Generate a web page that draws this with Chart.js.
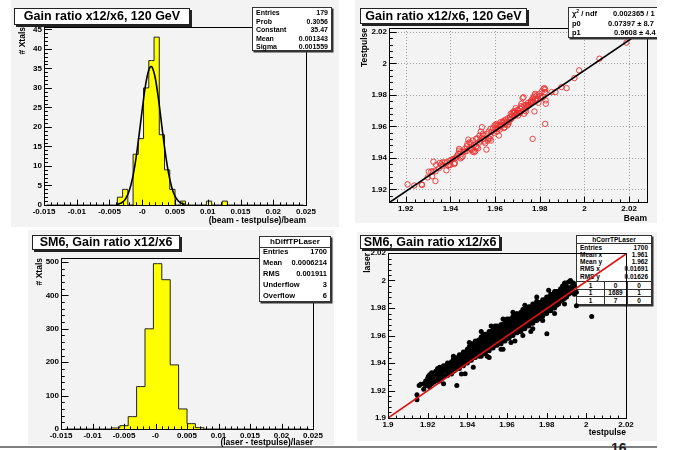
<!DOCTYPE html>
<html>
<head>
<meta charset="utf-8">
<script src="https://cdn.jsdelivr.net/npm/chart.js@4.4.0/dist/chart.umd.min.js"></script>
<style>
body { margin: 0; width: 673px; height: 450px; overflow: hidden; background: #fff; position: relative; font-family: "Liberation Sans", Arial, sans-serif; }
.bg { position: absolute; background: #f3f3f3; z-index: 0; }
canvas { position: absolute; z-index: 2; }
.ttl { position: absolute; z-index: 3; background: #fff; border: 1px solid #222; box-shadow: 2px 2px 0 #222; box-sizing: border-box; font-weight: bold; font-size: 12.5px; text-align: center; white-space: nowrap; }
.st { position: absolute; z-index: 3; background: #fff; border: 1px solid #333; box-shadow: 1.5px 1.5px 0 #333; box-sizing: border-box; font-weight: bold; font-size: 7px; }
.st .r { position: absolute; left: 3px; right: 3px; display: flex; justify-content: space-between; white-space: nowrap; }
.st .hd { position: absolute; left: 0; right: 0; text-align: center; border-bottom: 1px solid #333; }
.st .c { position: absolute; text-align: center; }
.st .hl { position: absolute; left: 0; right: 0; border-top: 1px solid #333; }
.st .vl { position: absolute; border-left: 1px solid #333; }
</style>
</head>
<body>

<div class="bg" style="left:11px;top:0;width:328px;height:227px"></div>
<div class="bg" style="left:355px;top:0;width:302px;height:223px"></div>
<div class="bg" style="left:28px;top:230px;width:306px;height:215px"></div>
<div class="bg" style="left:357px;top:232px;width:300px;height:209px"></div>
<div style="position:absolute;left:0;top:446px;width:657px;height:1.5px;background:#808080"></div>
<div style="position:absolute;left:611px;top:440px;font-size:14px;font-weight:bold;color:#222">16</div>

<canvas id="c1" width="340" height="226" style="left:0;top:0"></canvas>
<canvas id="c2" width="333" height="226" style="left:340px;top:0"></canvas>
<canvas id="c3" width="340" height="224" style="left:0;top:226px"></canvas>
<canvas id="c4" width="333" height="224" style="left:340px;top:226px"></canvas>

<div class="ttl" style="left:14px;top:8px;width:176px;height:17px;line-height:15px">Gain ratio x12/x6, 120 GeV</div>
<div class="ttl" style="left:360px;top:8px;width:167px;height:16px;line-height:14px">Gain ratio x12/x6, 120 GeV</div>
<div class="ttl" style="left:32px;top:235px;width:148px;height:15px;line-height:13px">SM6, Gain ratio x12/x6</div>
<div class="ttl" style="left:360px;top:235px;width:140px;height:14px;line-height:12px">SM6, Gain ratio x12/x6</div>

<div class="st" style="left:252px;top:7px;width:80px;height:44px;line-height:8.5px">
  <div class="r" style="top:1px"><span>Entries</span><span>179</span></div>
  <div class="r" style="top:9.5px"><span>Prob</span><span>0.3056</span></div>
  <div class="r" style="top:18px"><span>Constant</span><span>35.47</span></div>
  <div class="r" style="top:26.5px"><span>Mean</span><span>0.001343</span></div>
  <div class="r" style="top:35px"><span>Sigma</span><span>0.001559</span></div>
</div>

<div style="position:absolute;z-index:3;left:568px;top:7px;width:89px;height:33px;overflow:hidden">
  <div class="st" style="left:0;top:0;width:130px;height:31px;font-size:7.5px;line-height:9px">
    <div style="position:absolute;left:3px;top:1px">χ<sup style="font-size:5px;line-height:0">2</sup> / ndf</div>
    <div style="position:absolute;left:44px;top:1px;white-space:nowrap">0.002365 / 1</div>
    <div style="position:absolute;left:3px;top:11px">p0</div>
    <div style="position:absolute;left:39px;top:11px;white-space:nowrap">0.07397 ± 8.7</div>
    <div style="position:absolute;left:3px;top:20px">p1</div>
    <div style="position:absolute;left:45px;top:20px;white-space:nowrap">0.9608 ± 4.4</div>
  </div>
</div>

<div class="st" style="left:259px;top:236px;width:72px;height:66px;font-size:7.5px;line-height:11px">
  <div class="hd" style="top:-1px;font-size:8px">hDiffTPLaser</div>
  <div class="r" style="top:9px"><span>Entries</span><span>1700</span></div>
  <div class="r" style="top:20px"><span>Mean</span><span>0.0006214</span></div>
  <div class="r" style="top:31px"><span>RMS</span><span>0.001911</span></div>
  <div class="r" style="top:42px"><span>Underflow</span><span>3</span></div>
  <div class="r" style="top:53px"><span>Overflow</span><span>6</span></div>
</div>

<div class="st" style="left:576px;top:235px;width:76px;height:70px;font-size:6.5px;line-height:7.3px;z-index:1">
  <div class="hd" style="top:0">hCorrTPLaser</div>
  <div class="r" style="top:7.5px"><span>Entries</span><span>1700</span></div>
  <div class="r" style="top:14.8px"><span>Mean x</span><span>1.961</span></div>
  <div class="r" style="top:22px"><span>Mean y</span><span>1.962</span></div>
  <div class="r" style="top:29.3px"><span>RMS x</span><span>0.01691</span></div>
  <div class="r" style="top:36.6px"><span>RMS y</span><span>0.01626</span></div>
  <div class="hl" style="top:45px"></div>
  <div class="hl" style="top:52.5px"></div>
  <div class="hl" style="top:60px"></div>
  <div class="vl" style="left:27px;top:45px;height:24px"></div>
  <div class="vl" style="left:50px;top:45px;height:24px"></div>
  <div class="c" style="left:0;width:27px;top:45.5px">1</div>
  <div class="c" style="left:27px;width:23px;top:45.5px">0</div>
  <div class="c" style="left:50px;width:24px;top:45.5px">0</div>
  <div class="c" style="left:0;width:27px;top:53px">1</div>
  <div class="c" style="left:27px;width:23px;top:53px">1689</div>
  <div class="c" style="left:50px;width:24px;top:53px">1</div>
  <div class="c" style="left:0;width:27px;top:60.5px">1</div>
  <div class="c" style="left:27px;width:23px;top:60.5px">7</div>
  <div class="c" style="left:50px;width:24px;top:60.5px">0</div>
</div>

<script>
const FONT = '"Liberation Sans", Arial, sans-serif';

// top left: (beam - testpulse)/beam, 50 bins from -0.015 to 0.025
const beamDiffLow = -0.015;
const beamDiffBinWidth = 0.0008;
const beamDiffCounts = [0, 0, 0, 0, 0, 0, 0, 0, 0, 0,
  0, 0, 0, 0, 2, 4, 0, 13, 17, 30,
  37, 43, 18, 9, 4, 0, 1, 0, 0, 0,
  0, 1, 0, 0, 1, 0, 0, 0, 0, 0,
  0, 0, 0, 0, 0, 0, 0, 0, 0, 0];
// gaussian fit curve
const gausX = [-0.004, -0.0035, -0.003, -0.0025, -0.002, -0.0015, -0.001, -0.0005, 0, 0.0005, 0.001, 0.00134,
  0.0015, 0.002, 0.0025, 0.003, 0.0035, 0.004, 0.0045, 0.005, 0.0055, 0.006, 0.0065];
const gausY = [0.10, 0.29, 0.74, 1.72, 3.59, 6.74, 11.5, 17.7, 24.5, 30.7, 34.6, 35.47,
  35.3, 32.4, 26.9, 20.1, 13.6, 8.29, 4.55, 2.26, 1.01, 0.41, 0.15];
const diffTicks = [-0.015, -0.01, -0.005, 0, 0.005, 0.01, 0.015, 0.02, 0.025];
const diffTickLabels = ["-0.015", "-0.01", "-0.005", "-0", "0.005", "0.01", "0.015", "0.02", "0.025"];
const xtals1Ticks = [0, 5, 10, 15, 20, 25, 30, 35, 40, 45];

// top right: testpulse vs beam
const beamGain = [1.9208, 1.9238, 1.9271, 1.9273, 1.9333, 1.9314, 1.9321, 1.9324, 1.9336, 1.9352,
  1.9359, 1.9364, 1.9382, 1.9385, 1.9394, 1.9397, 1.9405, 1.9417, 1.9420, 1.9430,
  1.9435, 1.9439, 1.9445, 1.9450, 1.9455, 1.9465, 1.9473, 1.9476, 1.9480, 1.9485,
  1.9491, 1.9495, 1.9500, 1.9506, 1.9511, 1.9515, 1.9518, 1.9524, 1.9530, 1.9533,
  1.9536, 1.9541, 1.9545, 1.9548, 1.9553, 1.9556, 1.9561, 1.9567, 1.9571, 1.9576,
  1.9579, 1.9582, 1.9586, 1.9594, 1.9602, 1.9606, 1.9609, 1.9612, 1.9617, 1.9621,
  1.9624, 1.9627, 1.9632, 1.9636, 1.9639, 1.9642, 1.9647, 1.9652, 1.9655, 1.9658,
  1.9662, 1.9667, 1.9670, 1.9673, 1.9677, 1.9682, 1.9685, 1.9689, 1.9692, 1.9697,
  1.9700, 1.9703, 1.9708, 1.9712, 1.9715, 1.9718, 1.9723, 1.9727, 1.9730, 1.9733,
  1.9738, 1.9742, 1.9745, 1.9748, 1.9753, 1.9758, 1.9761, 1.9764, 1.9768, 1.9773,
  1.9776, 1.9779, 1.9783, 1.9788, 1.9791, 1.9794, 1.9798, 1.9803, 1.9806, 1.9809,
  1.9814, 1.9817, 1.9821, 1.9823, 1.9824, 1.9826, 1.9827, 1.9824, 1.9768, 1.9776,
  1.9852, 1.9870, 1.9897, 1.9920, 1.9955, 1.9976, 2.0067, 2.0188, 1.9298, 1.9303,
  1.9318, 1.9333, 1.9348, 1.9364, 1.9374, 1.9389, 1.9400, 1.9412, 1.9420, 1.9427,
  1.9439, 1.9445, 1.9458, 1.9465, 1.9473, 1.9485, 1.9491, 1.9500, 1.9506, 1.9515,
  1.9521, 1.9530, 1.9538, 1.9548, 1.9561, 1.9571, 1.9579, 1.9591, 1.9597, 1.9606,
  1.9612, 1.9621, 1.9632, 1.9639, 1.9648, 1.9658, 1.9667, 1.9676, 1.9685, 1.9694,
  1.9703, 1.9712, 1.9721, 1.9730, 1.9739, 1.9748, 1.9761, 1.9770, 1.9779];
const tpGain = [1.9232, 1.9225, 1.9232, 1.9228, 1.9253, 1.9313, 1.9315, 1.9376, 1.9355, 1.9368,
  1.9359, 1.9351, 1.9321, 1.9372, 1.9355, 1.9383, 1.9389, 1.9361, 1.9368, 1.9414,
  1.9425, 1.9457, 1.9397, 1.9404, 1.9410, 1.9440, 1.9444, 1.9489, 1.9516, 1.9461,
  1.9457, 1.9451, 1.9440, 1.9436, 1.9442, 1.9474, 1.9468, 1.9461, 1.9499, 1.9510,
  1.9567, 1.9595, 1.9552, 1.9521, 1.9504, 1.9493, 1.9453, 1.9510, 1.9525, 1.9521,
  1.9538, 1.9510, 1.9567, 1.9559, 1.9606, 1.9589, 1.9567, 1.9584, 1.9542, 1.9580,
  1.9627, 1.9606, 1.9606, 1.9627, 1.9589, 1.9595, 1.9616, 1.9631, 1.9606, 1.9614,
  1.9627, 1.9659, 1.9680, 1.9648, 1.9686, 1.9695, 1.9665, 1.9695, 1.9716, 1.9684,
  1.9705, 1.9669, 1.9686, 1.9712, 1.9729, 1.9744, 1.9780, 1.9786, 1.9680, 1.9701,
  1.9695, 1.9722, 1.9733, 1.9737, 1.9737, 1.9750, 1.9765, 1.9758, 1.9775, 1.9786,
  1.9797, 1.9807, 1.9763, 1.9797, 1.9771, 1.9750, 1.9807, 1.9792, 1.9780, 1.9822,
  1.9786, 1.9839, 1.9843, 1.9818, 1.9835, 1.9765, 1.9744, 1.9616, 1.9521, 1.9695,
  1.9818, 1.9818, 1.9850, 1.9843, 1.9907, 1.9956, 2.0030, 2.0132, 1.9276, 1.9313,
  1.9283, 1.9315, 1.9334, 1.9372, 1.9372, 1.9351, 1.9355, 1.9393, 1.9397, 1.9404,
  1.9446, 1.9436, 1.9440, 1.9457, 1.9474, 1.9499, 1.9495, 1.9510, 1.9482, 1.9521,
  1.9525, 1.9542, 1.9525, 1.9542, 1.9552, 1.9567, 1.9584, 1.9589, 1.9606, 1.9616,
  1.9610, 1.9606, 1.9627, 1.9637, 1.9644, 1.9652, 1.9644, 1.9669, 1.9686, 1.9673,
  1.9701, 1.9686, 1.9722, 1.9733, 1.9737, 1.9750, 1.9754, 1.9754, 1.9771];
const gainFitX = [1.9125, 2.028];
const gainFitY = [1.9115, 2.0225];
const gainTicks = [1.92, 1.94, 1.96, 1.98, 2.0, 2.02];
const gainTickLabels = ["1.92", "1.94", "1.96", "1.98", "2", "2.02"];

// bottom left: (laser - testpulse)/laser, 30 bins from -0.015 to 0.025
const laserDiffLow = -0.015;
const laserDiffBinWidth = 0.04 / 30;
const laserDiffCounts = [0, 0, 0, 0, 0, 0, 3, 10, 37, 127,
  300, 495, 447, 192, 60, 16, 4, 0, 0, 0,
  0, 0, 0, 0, 0, 0, 0, 0, 0, 0];
const xtals3Ticks = [0, 100, 200, 300, 400, 500];

// bottom right: laser vs testpulse, one column of laser values per testpulse value
const tpColumns = [1.9146, 1.9157, 1.9165, 1.918, 1.919, 1.920, 1.9204, 1.921, 1.922, 1.923,
  1.924, 1.925, 1.926, 1.927, 1.928, 1.929, 1.930, 1.931, 1.932, 1.933,
  1.934, 1.935, 1.936, 1.937, 1.938, 1.939, 1.940, 1.941, 1.942, 1.943,
  1.944, 1.945, 1.946, 1.947, 1.948, 1.949, 1.950, 1.951, 1.952, 1.953,
  1.954, 1.955, 1.956, 1.957, 1.958, 1.959, 1.960, 1.961, 1.962, 1.963,
  1.964, 1.965, 1.966, 1.967, 1.968, 1.969, 1.970, 1.971, 1.972, 1.973,
  1.974, 1.975, 1.976, 1.977, 1.978, 1.979, 1.980, 1.981, 1.982, 1.983,
  1.984, 1.985, 1.986, 1.987, 1.988, 1.989, 1.990, 1.991, 1.992, 1.993,
  1.994, 1.995];
const laserColumns = [
  [1.9133, 1.9169], [1.9236], [1.9245], [1.921, 1.925], [1.9235, 1.927], [1.925, 1.929], [1.9303],
  [1.9225, 1.927, 1.9315], [1.925, 1.929, 1.933], [1.926, 1.930],
  [1.927, 1.931, 1.934], [1.928, 1.932], [1.927, 1.931, 1.934, 1.937], [1.929, 1.933, 1.936],
  [1.930, 1.934, 1.938], [1.931, 1.935, 1.938], [1.931, 1.934, 1.937, 1.940], [1.933, 1.936, 1.939],
  [1.932, 1.935, 1.938, 1.941], [1.934, 1.937, 1.940, 1.943],
  [1.935, 1.937, 1.939, 1.941, 1.943], [1.936, 1.938, 1.940, 1.942, 1.944],
  [1.936, 1.938, 1.940, 1.942, 1.944, 1.946], [1.938, 1.940, 1.942, 1.944, 1.946],
  [1.938, 1.940, 1.942, 1.944, 1.946, 1.948], [1.940, 1.942, 1.944, 1.946, 1.948],
  [1.940, 1.942, 1.944, 1.946, 1.948, 1.950],
  [1.942, 1.944, 1.946, 1.948, 1.950, 1.952],
  [1.942, 1.944, 1.946, 1.948, 1.950, 1.952, 1.954],
  [1.944, 1.946, 1.948, 1.950, 1.952, 1.954],
  [1.944, 1.946, 1.948, 1.950, 1.952, 1.954, 1.956],
  [1.946, 1.948, 1.950, 1.952, 1.954, 1.956],
  [1.945, 1.947, 1.949, 1.951, 1.953, 1.955, 1.957],
  [1.945, 1.947, 1.949, 1.951, 1.953, 1.955, 1.957, 1.959],
  [1.947, 1.949, 1.951, 1.953, 1.955, 1.957, 1.959, 1.961],
  [1.947, 1.949, 1.951, 1.953, 1.955, 1.957, 1.959, 1.961],
  [1.949, 1.951, 1.953, 1.955, 1.957, 1.959, 1.961, 1.945],
  [1.949, 1.951, 1.953, 1.955, 1.957, 1.959, 1.961, 1.963],
  [1.951, 1.953, 1.955, 1.957, 1.959, 1.961, 1.963],
  [1.951, 1.953, 1.955, 1.957, 1.959, 1.961, 1.963, 1.965],
  [1.953, 1.955, 1.957, 1.959, 1.961, 1.963, 1.965, 1.967],
  [1.953, 1.955, 1.957, 1.959, 1.961, 1.963, 1.965, 1.967],
  [1.954, 1.956, 1.958, 1.960, 1.962, 1.964, 1.966],
  [1.954, 1.956, 1.958, 1.960, 1.962, 1.964, 1.966, 1.968],
  [1.956, 1.958, 1.960, 1.962, 1.964, 1.966, 1.968, 1.950],
  [1.956, 1.958, 1.960, 1.962, 1.964, 1.966, 1.968, 1.970],
  [1.958, 1.960, 1.962, 1.964, 1.966, 1.968, 1.970, 1.972],
  [1.958, 1.960, 1.962, 1.964, 1.966, 1.968, 1.970, 1.972],
  [1.960, 1.962, 1.964, 1.966, 1.968, 1.970, 1.972],
  [1.960, 1.962, 1.964, 1.966, 1.968, 1.970, 1.972, 1.974],
  [1.962, 1.964, 1.966, 1.968, 1.970, 1.972, 1.974, 1.956],
  [1.962, 1.964, 1.966, 1.968, 1.970, 1.972, 1.974, 1.976],
  [1.963, 1.965, 1.967, 1.969, 1.971, 1.973, 1.975],
  [1.963, 1.965, 1.967, 1.969, 1.971, 1.973, 1.975, 1.977],
  [1.965, 1.967, 1.969, 1.971, 1.973, 1.975, 1.977, 1.979],
  [1.965, 1.967, 1.969, 1.971, 1.973, 1.975, 1.977, 1.979],
  [1.967, 1.969, 1.971, 1.973, 1.975, 1.977, 1.979],
  [1.967, 1.969, 1.971, 1.973, 1.975, 1.977, 1.979, 1.981],
  [1.969, 1.971, 1.973, 1.975, 1.977, 1.979, 1.981, 1.963],
  [1.969, 1.971, 1.973, 1.975, 1.977, 1.979, 1.981, 1.983],
  [1.971, 1.973, 1.975, 1.977, 1.979, 1.981, 1.983],
  [1.971, 1.973, 1.975, 1.977, 1.979, 1.981, 1.983, 1.985],
  [1.972, 1.974, 1.976, 1.978, 1.980, 1.982, 1.984],
  [1.974, 1.976, 1.978, 1.980, 1.982, 1.984],
  [1.974, 1.976, 1.978, 1.980, 1.982, 1.984, 1.986],
  [1.976, 1.978, 1.980, 1.982, 1.984, 1.986],
  [1.976, 1.978, 1.980, 1.982, 1.984, 1.986, 1.988],
  [1.978, 1.980, 1.982, 1.984, 1.986, 1.988],
  [1.978, 1.980, 1.982, 1.984, 1.986, 1.988, 1.990],
  [1.980, 1.982, 1.984, 1.986, 1.988, 1.990],
  [1.980, 1.982, 1.984, 1.986, 1.988, 1.990, 1.992],
  [1.982, 1.984, 1.986, 1.988, 1.990, 1.992],
  [1.983, 1.986, 1.989, 1.992],
  [1.985, 1.988, 1.991, 1.994],
  [1.986, 1.990, 1.993, 1.996],
  [1.987, 1.991, 1.995, 1.998],
  [1.988, 1.992, 1.996],
  [1.990, 1.994, 1.999],
  [1.991, 1.995, 2.000],
  [1.993, 1.998],
  [1.990, 1.996],
  [1.9915, 1.9817]
];
// isolated dots and the ragged edges of the band
const tpOutliers = [2.0027, 1.9801, 1.9347, 1.9389, 1.9893, 1.9918, 1.9935,
  1.925, 1.933, 1.941, 1.947, 1.952, 1.958, 1.963, 1.969, 1.975, 1.981,
  1.928, 1.937, 1.943, 1.951, 1.957, 1.962, 1.968, 1.973, 1.978, 1.984, 1.989];
const laserOutliers = [1.9739, 1.9613, 1.9237, 1.9322, 1.9982, 1.9994, 1.9982,
  1.936, 1.945, 1.955, 1.963, 1.967, 1.972, 1.977, 1.982, 1.988, 1.993,
  1.925, 1.932, 1.937, 1.944, 1.950, 1.955, 1.960, 1.965, 1.971, 1.976, 1.983];
const corrFitX = [1.9, 2.02];
const corrFitY = [1.9, 2.0193];
const corrTicks = [1.9, 1.92, 1.94, 1.96, 1.98, 2.0, 2.02];
const corrTickLabels = ["1.9", "1.92", "1.94", "1.96", "1.98", "2", "2.02"];

function eachTick(scale, minor, major, cb) {
  const n0 = Math.ceil(scale.min / minor - 1e-6);
  const n1 = Math.floor(scale.max / minor + 1e-6);
  for (let n = n0; n <= n1; n++) {
    const r = (n * minor) / major;
    cb(scale.getPixelForValue(n * minor), Math.abs(r - Math.round(r)) < 1e-4);
  }
}

// ROOT style frame: box, inner ticks, optional dotted grid
const rootFrame = {
  id: "rootFrame",
  beforeDatasetsDraw(chart, args, o) {
    if (!o.grid) return;
    const { ctx, chartArea: a, scales: { x, y } } = chart;
    ctx.save();
    ctx.strokeStyle = "#a0a0a0";
    ctx.lineWidth = 1;
    ctx.setLineDash([1, 2]);
    ctx.beginPath();
    o.xGrid.forEach(v => {
      const px = Math.round(x.getPixelForValue(v)) + 0.5;
      ctx.moveTo(px, a.top);
      ctx.lineTo(px, a.bottom);
    });
    o.yGrid.forEach(v => {
      const py = Math.round(y.getPixelForValue(v)) + 0.5;
      ctx.moveTo(a.left, py);
      ctx.lineTo(a.right, py);
    });
    ctx.stroke();
    ctx.restore();
  },
  afterDatasetsDraw(chart, args, o) {
    const { ctx, chartArea: a, scales: { x, y } } = chart;
    const xl = 0.03 * a.height, yl = 0.03 * a.width;
    ctx.save();
    ctx.strokeStyle = "#000";
    ctx.lineWidth = 1;
    ctx.beginPath();
    eachTick(x, o.xMinor, o.xMajor, (px, major) => {
      px = Math.round(px) + 0.5;
      ctx.moveTo(px, a.bottom);
      ctx.lineTo(px, a.bottom - (major ? xl : xl / 2));
    });
    eachTick(y, o.yMinor, o.yMajor, (py, major) => {
      py = Math.round(py) + 0.5;
      ctx.moveTo(a.left, py);
      ctx.lineTo(a.left + (major ? yl : yl / 2), py);
    });
    ctx.stroke();
    ctx.strokeRect(Math.round(a.left) + 0.5, Math.round(a.top) + 0.5, Math.round(a.width), Math.round(a.height));
    ctx.restore();
  }
};
Chart.register(rootFrame);

function axis(a, size, horizontal) {
  const font = { family: FONT, size: 8, weight: "bold" };
  return {
    type: "linear",
    min: a.min,
    max: a.max,
    afterFit: s => { if (horizontal) s.height = size; else s.width = size; },
    afterBuildTicks: s => { s.ticks = a.ticks.map(v => ({ value: v })); },
    grid: { display: false, drawTicks: false },
    border: { display: false },
    ticks: {
      padding: horizontal ? 1.5 : 2, color: "#000", font: font, autoSkip: false, maxRotation: 0,
      callback: (v, i) => a.labels[i]
    },
    title: {
      display: true, text: a.title, align: "end", color: "#000", font: { family: FONT, size: 8.5, weight: "bold" },
      padding: horizontal ? { top: 0, bottom: a.titlePad } : { top: a.titlePad, bottom: 0 }
    }
  };
}

function panelOptions(p) {
  return {
    responsive: false,
    animation: false,
    events: [],
    layout: { padding: { left: 0, top: p.top, right: p.right, bottom: 0 } },
    plugins: { legend: { display: false }, tooltip: { enabled: false }, rootFrame: p.frame },
    scales: { x: axis(p.x, p.xHeight, true), y: axis(p.y, p.yWidth, false) }
  };
}

const hist1 = beamDiffCounts.map((c, i) => ({ x: beamDiffLow + (i + 0.5) * beamDiffBinWidth, y: c }));
const gaus1 = gausX.map((v, i) => ({ x: v, y: gausY[i] }));

new Chart(document.getElementById("c1"), {
  type: "line",
  data: {
    datasets: [
      { data: gaus1, borderColor: "#000", borderWidth: 1.6, pointRadius: 0, cubicInterpolationMode: "monotone", fill: false },
      { data: hist1, stepped: "middle", fill: "origin", backgroundColor: "#ffff00", borderColor: "#222", borderWidth: 1, pointRadius: 0 }
    ]
  },
  options: panelOptions({
    top: 27, right: 34, xHeight: 21, yWidth: 44,
    x: { min: -0.015, max: 0.025, ticks: diffTicks, labels: diffTickLabels, title: "(beam - testpulse)/beam", titlePad: 0 },
    y: { min: 0, max: 45.6, ticks: xtals1Ticks, labels: xtals1Ticks.map(String), title: "# Xtals", titlePad: 18 },
    frame: { xMinor: 0.001, xMajor: 0.005, yMinor: 1, yMajor: 5 }
  })
});

const gainPoints = beamGain.map((v, i) => ({ x: v, y: tpGain[i] }));
const gainFit = gainFitX.map((v, i) => ({ x: v, y: gainFitY[i] }));

new Chart(document.getElementById("c2"), {
  type: "scatter",
  data: {
    datasets: [
      { data: gainFit, showLine: true, borderColor: "#000", borderWidth: 1.6, pointRadius: 0 },
      { data: gainPoints, pointRadius: 2.7, borderColor: "#ea3030", borderWidth: 0.9, backgroundColor: "rgba(0,0,0,0)" }
    ]
  },
  options: panelOptions({
    top: 28, right: 26, xHeight: 24, yWidth: 49,
    x: { min: 1.9125, max: 2.028, ticks: gainTicks, labels: gainTickLabels, title: "Beam", titlePad: 2 },
    y: { min: 1.912, max: 2.0225, ticks: gainTicks, labels: gainTickLabels, title: "Testpulse", titlePad: 20 },
    frame: { xMinor: 0.004, xMajor: 0.02, yMinor: 0.004, yMajor: 0.02, grid: true, xGrid: gainTicks, yGrid: gainTicks }
  })
});

const hist3 = laserDiffCounts.map((c, i) => ({ x: laserDiffLow + (i + 0.5) * laserDiffBinWidth, y: c }));

new Chart(document.getElementById("c3"), {
  type: "line",
  data: {
    datasets: [
      { data: hist3, stepped: "middle", fill: "origin", backgroundColor: "#ffff00", borderColor: "#222", borderWidth: 1, pointRadius: 0 }
    ]
  },
  options: panelOptions({
    top: 32, right: 27, xHeight: 21, yWidth: 61,
    x: { min: -0.015, max: 0.025, ticks: diffTicks, labels: diffTickLabels, title: "(laser - testpulse)/laser", titlePad: 2 },
    y: { min: 0, max: 512, ticks: xtals3Ticks, labels: xtals3Ticks.map(String), title: "# Xtals", titlePad: 35 },
    frame: { xMinor: 0.001, xMajor: 0.005, yMinor: 20, yMajor: 100 }
  })
});

const corrPoints = [];
tpColumns.forEach((x, i) => laserColumns[i].forEach(y => corrPoints.push({ x: x, y: y })));
tpOutliers.forEach((x, i) => corrPoints.push({ x: x, y: laserOutliers[i] }));
const corrFit = corrFitX.map((v, i) => ({ x: v, y: corrFitY[i] }));

new Chart(document.getElementById("c4"), {
  type: "scatter",
  data: {
    datasets: [
      { data: corrFit, showLine: true, borderColor: "#e01010", borderWidth: 1.6, pointRadius: 0 },
      { data: corrPoints, pointRadius: 2.5, borderWidth: 0, backgroundColor: "#000" }
    ]
  },
  options: panelOptions({
    top: 27, right: 47, xHeight: 32, yWidth: 48,
    x: { min: 1.9, max: 2.02, ticks: corrTicks, labels: corrTickLabels, title: "testpulse", titlePad: 12 },
    y: { min: 1.9, max: 2.02, ticks: corrTicks, labels: corrTickLabels, title: "laser", titlePad: 23 },
    frame: { xMinor: 0.004, xMajor: 0.02, yMinor: 0.004, yMajor: 0.02 }
  })
});
</script>
</body>
</html>
